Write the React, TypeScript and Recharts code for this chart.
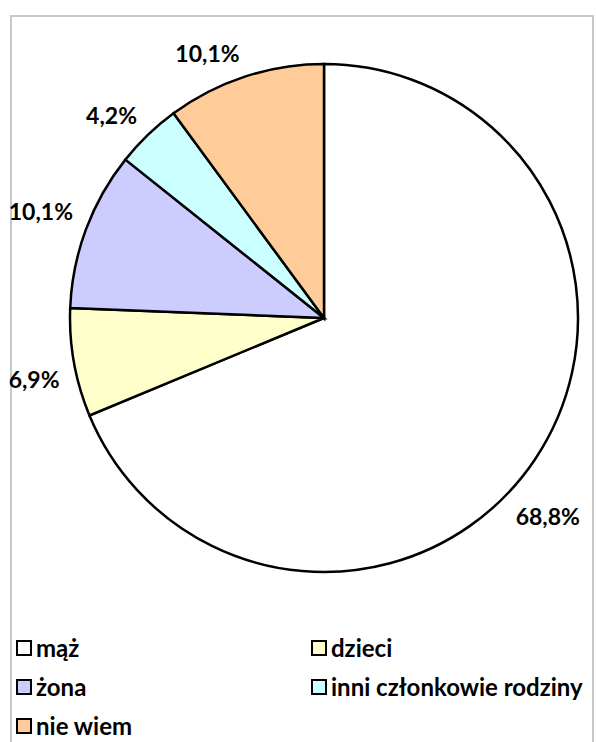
import React from 'react';
import { PieChart, Pie, Cell, Legend } from 'recharts';

const categories = ['mąż', 'dzieci', 'żona', 'inni członkowie rodziny', 'nie wiem'];
const shares = [68.8, 6.9, 10.1, 4.2, 10.1];
const colors = ['#FFFFFF', '#FFFFCC', '#CCCCFF', '#CCFFFF', '#FFCC99'];

const data = categories.map((name, i) => ({ name, value: shares[i] }));

const FONT = 'Lato, "Open Sans", sans-serif';
const LABEL_SIZE = 23;
const RAD = Math.PI / 180;

const fmt = (v: number) => v.toFixed(1).replace('.', ',') + '%';

// rough text width in em for the label glyphs
const textWidth = (s: string, size: number) =>
  s.split('').reduce((w, ch) => w + (ch === ',' ? 0.25 : ch === '%' ? 0.85 : 0.58), 0) * size;

// outside-end label, slid along the rim (like Excel's best fit) when it would leave the frame
const renderLabel = (props: any) => {
  const { cx, cy, outerRadius, midAngle, value } = props;
  const text = fmt(value);
  const halfW = textWidth(text, LABEL_SIZE) / 2;
  const halfH = 9;
  const gap = 15;
  const xMin = 8;
  const xMax = 582;

  const place = (angle: number) => {
    const c = Math.cos(angle * RAD);
    const s = Math.sin(angle * RAD);
    const px = cx + outerRadius * c;
    const py = cy - outerRadius * s;
    return {
      x: px + gap * c + (c >= 0 ? halfW : -halfW),
      y: py - gap * s + (s >= 0 ? -halfH : halfH),
    };
  };

  let angle = midAngle;
  let pos = place(angle);
  const step = Math.sin(angle * RAD) < 0 ? -0.5 : 0.5;
  let tries = 0;
  while ((pos.x - halfW < xMin || pos.x + halfW > xMax) && tries < 120) {
    // push toward the closest pole of the circle
    angle += Math.cos(angle * RAD) >= 0 ? step : -step;
    pos = place(angle);
    tries++;
  }

  return (
    <text
      x={pos.x}
      y={pos.y}
      textAnchor="middle"
      dominantBaseline="central"
      fill="#000"
      fontFamily={FONT}
      fontWeight={700}
      fontSize={LABEL_SIZE}
    >
      {text}
    </text>
  );
};

const LegendBox = () => (
  <div
    style={{
      display: 'grid',
      gridTemplateColumns: '295px 285px',
      fontFamily: FONT,
      fontWeight: 700,
      fontSize: 24,
      color: '#000',
    }}
  >
    {categories.map((name, i) => (
      <div key={name} style={{ display: 'flex', alignItems: 'center', height: 39, whiteSpace: 'nowrap' }}>
        <span
          style={{
            display: 'inline-block',
            width: 12,
            height: 12,
            border: '2px solid #000',
            background: colors[i],
            marginRight: 4,
            boxSizing: 'content-box',
          }}
        />
        <span>{name}</span>
      </div>
    ))}
  </div>
);

export default function App() {
  return (
    <div
      style={{
        position: 'absolute',
        left: 0,
        top: 0,
        width: 596,
        height: 742,
        overflow: 'hidden',
        background: '#fff',
      }}
    >
      <div
        style={{
          position: 'absolute',
          left: 10,
          top: 15,
          width: 580,
          height: 760,
          border: '2px solid #C8C8C8',
        }}
      />
      <PieChart
        width={596}
        height={742}
        margin={{ top: 0, right: 0, bottom: 0, left: 0 }}
        style={{ position: 'absolute', left: 0, top: 0 }}
      >
        <Pie
          data={data}
          dataKey="value"
          nameKey="name"
          cx={324}
          cy={318}
          outerRadius={254}
          startAngle={90}
          endAngle={-270}
          stroke="#000"
          strokeWidth={2.5}
          label={renderLabel}
          labelLine={false}
          isAnimationActive={false}
        >
          {data.map((d, i) => (
            <Cell key={d.name} fill={colors[i]} />
          ))}
        </Pie>
        <Legend
          content={() => <LegendBox />}
          wrapperStyle={{ position: 'absolute', left: 16, top: 628, width: 580 }}
        />
      </PieChart>
    </div>
  );
}
